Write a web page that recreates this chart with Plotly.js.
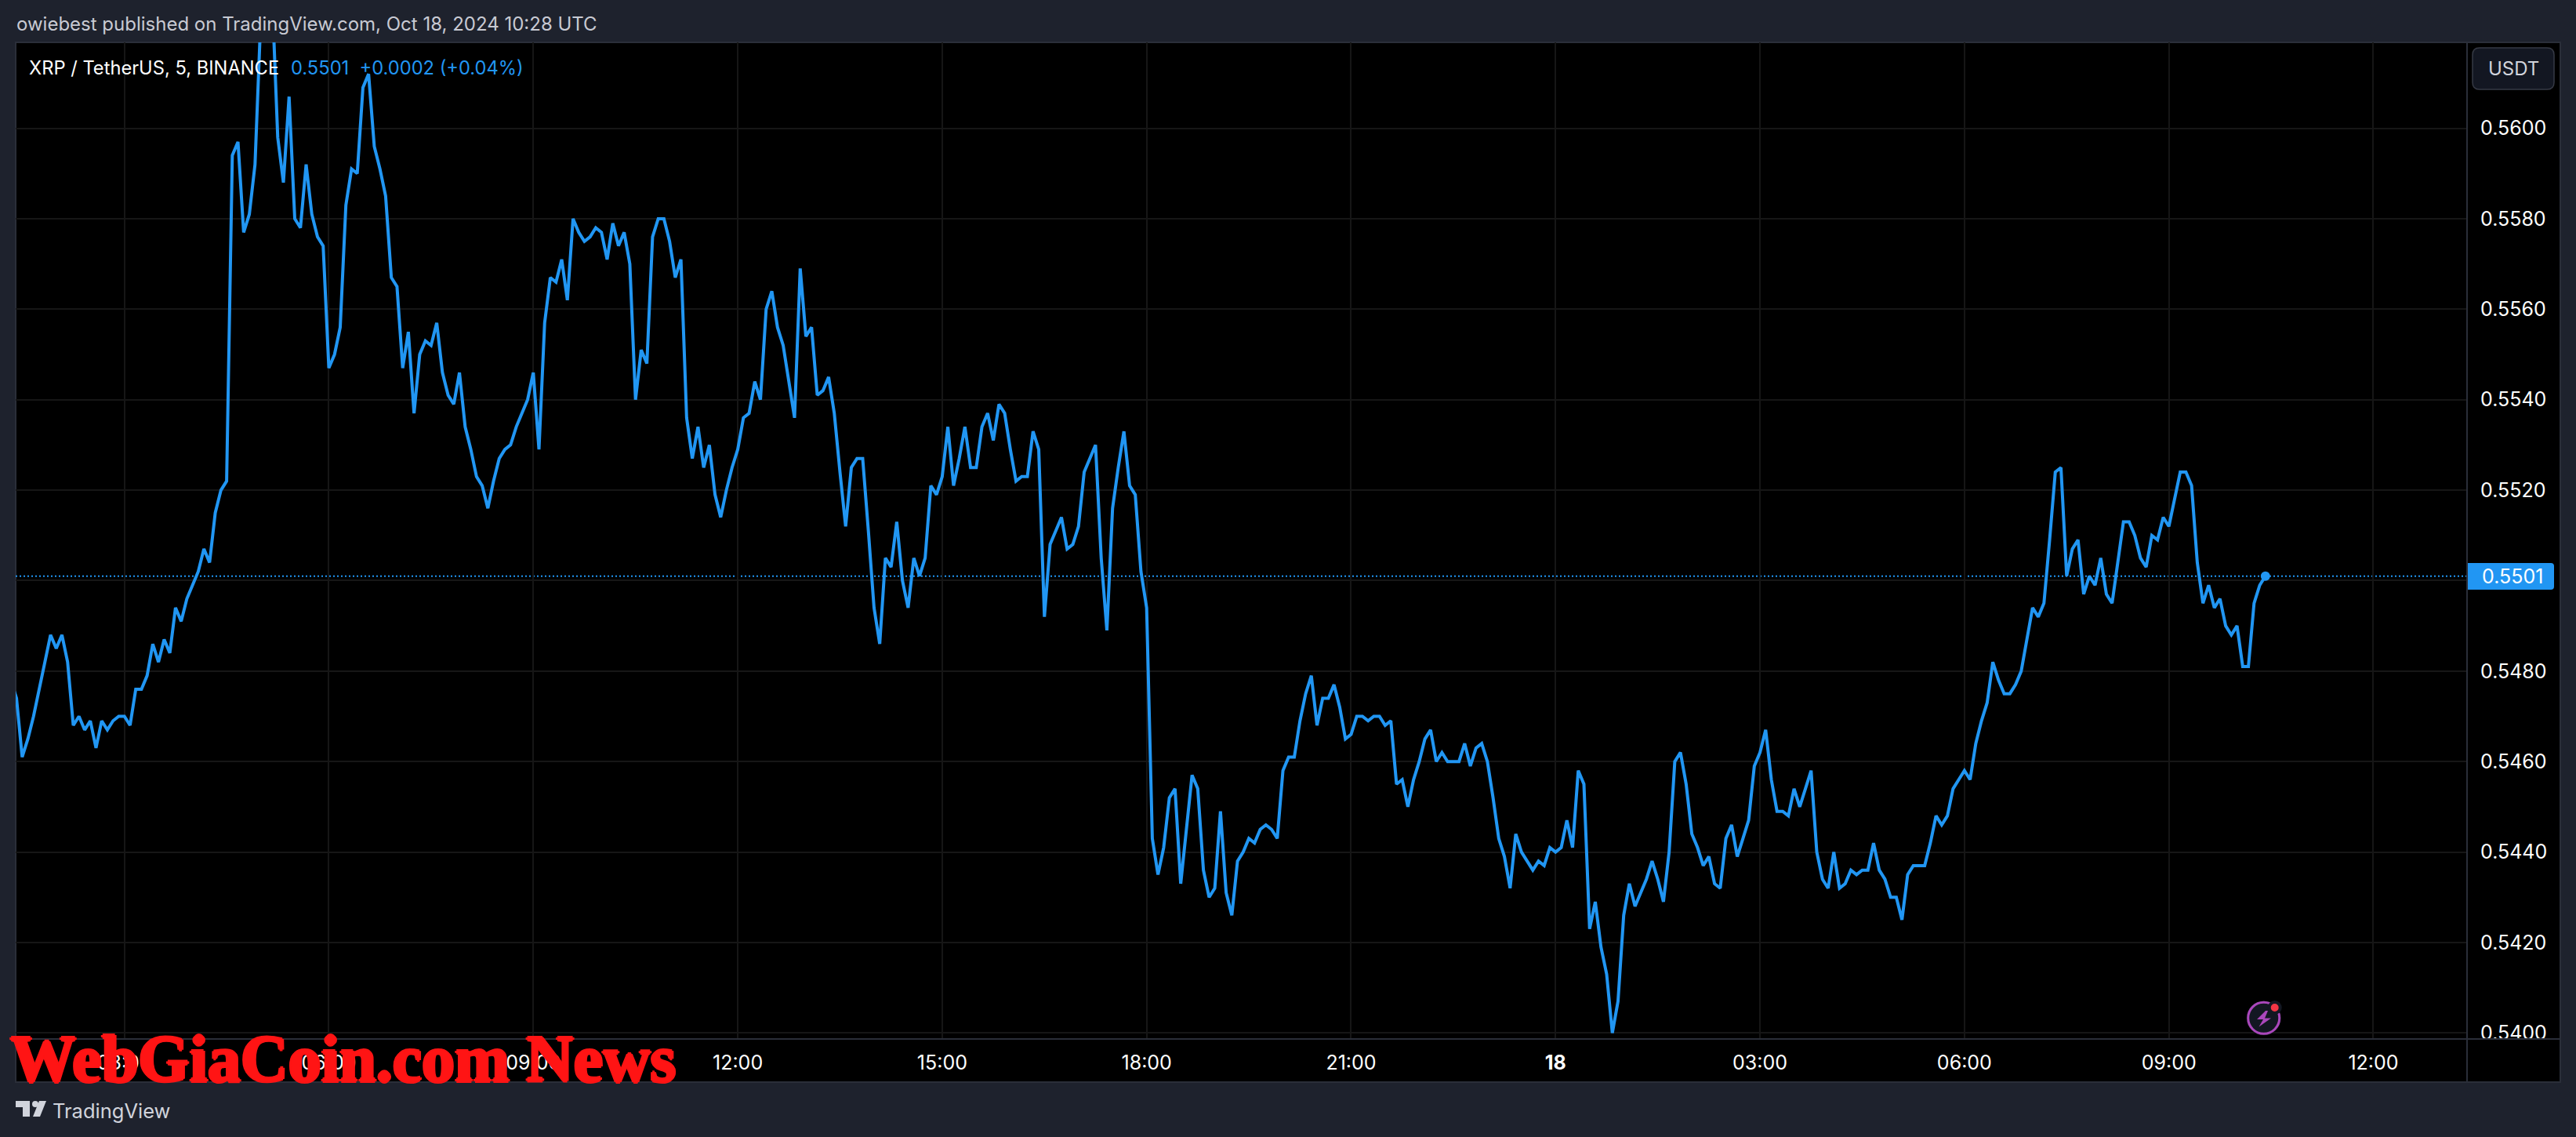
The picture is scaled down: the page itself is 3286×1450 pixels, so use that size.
<!DOCTYPE html>
<html>
<head>
<meta charset="utf-8">
<script src="https://cdn.plot.ly/plotly-3.0.1.min.js"></script>
<style>html,body{margin:0;padding:0;background:#1e222d}#chart{width:3286px;height:1450px}</style>
</head>
<body>
<div id="chart"></div>
<script>
// 5-minute closes, XRP/USDT. Starts Oct 17 01:20.
const closesEarly = [0.5478,0.5474,0.5461,0.5465,0.5470,0.5476,0.5482,0.5488,0.5485,0.5488,0.5482,0.5468,0.5470,0.5467,0.5469,0.5463,0.5469,0.5467,0.5469,0.5470,0.5470,
 0.5468,0.5476,0.5476,0.5479,0.5486,0.5482,0.5487,0.5484,0.5494,0.5491,0.5496,0.5499,0.5502,0.5507,0.5504,
 0.5515,0.5520,0.5522,0.5594,0.5597,0.5577,0.5581,0.5592,0.5624,0.5632,0.5630,0.5598,0.5588,0.5607,0.5580,0.5578,0.5592,0.5581,0.5576,0.5574,0.5547];
const closesMorning = [0.5550,0.5556,0.5583,0.5591,0.5590,0.5609,0.5612,0.5596,0.5591,0.5585,0.5567,0.5565,0.5547,0.5555,0.5537,0.5550,0.5553,0.5552,0.5557,0.5546,0.5541,0.5539,0.5546,0.5534,0.5529,0.5523,0.5521,0.5516,0.5522,0.5527,0.5529,0.5530,0.5534,0.5537,0.5540,0.5546,
 0.5529,0.5557,0.5567,0.5566,0.5571,0.5562,0.5580,0.5577,0.5575,0.5576,0.5578,0.5577,0.5571,0.5579,0.5574,0.5577,0.5570,0.5540,0.5551,0.5548,0.5576,0.5580,0.5580,0.5575,0.5567,0.5571,0.5536,0.5527,0.5534,0.5525,0.5530,0.5519,0.5514,0.5520,0.5525,0.5529];
const closesAfternoon = [0.5536,0.5537,0.5544,0.5540,0.5560,0.5564,0.5556,0.5552,0.5544,0.5536,0.5569,0.5554,0.5556,0.5541,0.5542,0.5545,0.5537,0.5524,0.5512,0.5525,0.5527,0.5527,0.5511,0.5494,0.5486,0.5505,0.5503,0.5513,0.5500,0.5494,0.5505,0.5501,0.5505,0.5521,0.5519,0.5523,
 0.5534,0.5521,0.5527,0.5534,0.5525,0.5525,0.5534,0.5537,0.5531,0.5539,0.5537,0.5529,0.5522,0.5523,0.5523,0.5533,0.5529,0.5492,0.5508,0.5511,0.5514,0.5507,0.5508,0.5512,0.5524,0.5527,0.5530,0.5505,0.5489,0.5516,0.5525,0.5533,0.5521,0.5519,0.5502,0.5494];
const closesEvening = [0.5443,0.5435,0.5441,0.5452,0.5454,0.5433,0.5445,0.5457,0.5454,0.5436,0.5430,0.5432,0.5449,0.5431,0.5426,0.5438,0.5440,0.5443,0.5442,0.5445,0.5446,0.5445,0.5443,0.5458,0.5461,0.5461,0.5469,0.5475,0.5479,0.5468,0.5474,0.5474,0.5477,0.5472,0.5465,0.5466,
 0.5470,0.5470,0.5469,0.5470,0.5470,0.5468,0.5469,0.5455,0.5456,0.5450,0.5456,0.5460,0.5465,0.5467,0.5460,0.5462,0.5460,0.5460,0.5460,0.5464,0.5459,0.5463,0.5464,0.5460,0.5452,0.5443,0.5439,0.5432,0.5444,0.5440,0.5438,0.5436,0.5438,0.5437,0.5441,0.5440];
const closesNight = [0.5441,0.5447,0.5441,0.5458,0.5455,0.5423,0.5429,0.5419,0.5413,0.5400,0.5407,0.5426,0.5433,0.5428,0.5431,0.5434,0.5438,0.5434,0.5429,0.5440,0.5460,0.5462,0.5455,0.5444,0.5441,0.5437,0.5439,0.5433,0.5432,0.5443,0.5446,0.5439,0.5443,0.5447,0.5459,0.5462,
 0.5467,0.5456,0.5449,0.5449,0.5448,0.5454,0.5450,0.5454,0.5458,0.5440,0.5434,0.5432,0.5440,0.5432,0.5433,0.5436,0.5435,0.5436,0.5436,0.5442,0.5436,0.5434,0.5430,0.5430,0.5425,0.5435,0.5437,0.5437,0.5437,0.5442,0.5448,0.5446,0.5448,0.5454,0.5456,0.5458];
const closesLate = [0.5456,0.5464,0.5469,0.5473,0.5482,0.5478,0.5475,0.5475,0.5477,0.5480,0.5487,0.5494,0.5492,0.5495,0.5509,0.5524,0.5525,0.5501,0.5507,0.5509,0.5497,0.5501,0.5499,0.5505,0.5497,0.5495,0.5504,0.5513,0.5513,0.5510,0.5505,0.5503,0.5510,0.5509,0.5514,0.5512,
 0.5518,0.5524,0.5524,0.5521,0.5504,0.5495,0.5499,0.5494,0.5496,0.5490,0.5488,0.5490,0.5481,0.5481,0.5495,0.5499,0.5501];
const closes = [].concat(closesEarly, closesMorning, closesAfternoon, closesEvening, closesNight, closesLate);

const startMs = Date.UTC(2024, 9, 17, 1, 20);
const barMinutes = 5;
const times = closes.map((_, i) => new Date(startMs + i * barMinutes * 60000).toISOString().slice(0, 19).replace('T', ' '));

const xTickVals = ['2024-10-17 03:00','2024-10-17 06:00','2024-10-17 09:00','2024-10-17 12:00','2024-10-17 15:00','2024-10-17 18:00','2024-10-17 21:00','2024-10-18 00:00','2024-10-18 03:00','2024-10-18 06:00','2024-10-18 09:00','2024-10-18 12:00'];
const xTickText = ['03:00','06:00','09:00','12:00','15:00','18:00','21:00','<b>18</b>','03:00','06:00','09:00','12:00'];
const yTickVals = [0.5400,0.5420,0.5440,0.5460,0.5480,0.5500,0.5520,0.5540,0.5560,0.5580,0.5600];
const yTickText = ['0.5400','0.5420','0.5440','0.5460','0.5480','','0.5520','0.5540','0.5560','0.5580','0.5600'];

const lastPrice = 0.5501;
const headerText = 'owiebest published on TradingView.com, Oct 18, 2024 10:28 UTC';
const symbolText = 'XRP / TetherUS, 5, BINANCE';
const quoteText = '0.5501  +0.0002 (+0.04%)';
const watermarkText = 'WebGiaCoin.com News';

const W = 3286, H = 1450;
const fx = p => p / W, fy = p => 1 - p / H;
const BLUE = '#2196f3', BG = '#1e222d', BORDER = '#2a2e39', GRID = '#161616', FONT = 'Inter, Roboto, sans-serif';

function rect(x0, y0, x1, y1, fill, layer, line) {
  return {type:'rect', xref:'paper', yref:'paper', x0:fx(x0), x1:fx(x1), y0:fy(y1), y1:fy(y0), fillcolor:fill,
          line:line || {width:0}, layer:layer || 'below'};
}
function circle(cx, cy, r, fill, layer, line) {
  return {type:'circle', xref:'paper', yref:'paper', x0:fx(cx - r), x1:fx(cx + r), y0:fy(cy + r), y1:fy(cy - r), fillcolor:fill,
          line:line || {width:0}, layer:layer || 'above'};
}
function poly(points, fill, layer) {
  const d = points.map((p, i) => (i ? 'L' : 'M') + fx(p[0]) + ',' + fy(p[1])).join(' ') + ' Z';
  return {type:'path', xref:'paper', yref:'paper', path:d, fillcolor:fill, line:{width:0}, layer:layer || 'above'};
}
function rounded(x0, y0, x1, y1, r, fill, line, rl) {
  const rL = rl === undefined ? r : rl;
  const P = (x, y) => fx(x) + ',' + fy(y);
  const d = 'M' + P(x0 + rL, y0) + ' L' + P(x1 - r, y0) + ' Q' + P(x1, y0) + ' ' + P(x1, y0 + r) +
    ' L' + P(x1, y1 - r) + ' Q' + P(x1, y1) + ' ' + P(x1 - r, y1) + ' L' + P(x0 + rL, y1) +
    (rL ? ' Q' + P(x0, y1) + ' ' + P(x0, y1 - rL) + ' L' + P(x0, y0 + rL) + ' Q' + P(x0, y0) + ' ' + P(x0 + rL, y0) : ' L' + P(x0, y0)) + ' Z';
  return {type:'path', xref:'paper', yref:'paper', path:d, fillcolor:fill, line:line || {width:0}, layer:'above'};
}
function label(text, x, y, size, color, anchor, extra) {
  return Object.assign({text:text, xref:'paper', yref:'paper', x:fx(x), y:fy(y), xanchor:anchor || 'left', yanchor:'middle',
    showarrow:false, font:{family:FONT, size:size, color:color}, borderpad:0}, extra || {});
}

const shapes = [
  rect(20, 54, 3266, 1380, '#000000', 'below', {color:BORDER, width:2}),
  // axis separators
  rect(3146, 54, 3148, 1380, BORDER, 'above'),
  rect(20, 1324, 3266, 1326, BORDER, 'above'),
  // clip for the lowest price label
  rect(3149, 1326, 3265, 1379, '#000000', 'above'),
  // last price line
  {type:'line', xref:'paper', yref:'y', x0:fx(20), x1:fx(3147), y0:lastPrice, y1:lastPrice, line:{color:BLUE, width:2, dash:'2px,3px'}, layer:'below'},
  // last price badge
  rounded(3148, 718, 3258, 752, 4, BLUE, null, 0),
  // USDT button
  rounded(3154, 61, 3258, 114, 9, '#131722', {color:'#363a45', width:1.5}),
  // lightning icon
  circle(2887.7, 1298.3, 22, '#131722'),
  circle(2887.7, 1298.3, 20, '#131722', 'above', {color:'#ab47bc', width:3}),
  poly([[2890,1289],[2879,1300],[2887,1300],[2881.5,1309.5],[2897,1298.5],[2889,1298.5],[2893,1289]], '#ab47bc'),
  circle(2901.7, 1285, 9, '#131722'),
  circle(2901.7, 1285, 5, '#f23645'),
  // TradingView mark
  poly([[20,1404],[38,1404],[38,1424],[29,1424],[29,1412],[20,1412]], '#d1d4dc'),
  circle(45, 1408, 4, '#d1d4dc'),
  poly([[50,1404],[59,1404],[51,1424],[42,1424]], '#d1d4dc')
];

const wmShadow = '2px 0 0 #ff1414, -2px 0 0 #ff1414, 0 2px 0 #ff1414, 0 -2px 0 #ff1414';
const annotations = [
  label(headerText, 20, 31, 24, '#c8cad3'),
  label(symbolText, 36, 86, 23.7, '#ffffff'),
  label(quoteText, 370, 86, 23.7, BLUE),
  label('USDT', 3206, 87, 24, '#d1d4dc', 'center'),
  label('0.5501', 3205, 735, 25, '#ffffff', 'center'),
  label('TradingView', 66, 1416, 25.5, '#d1d4dc'),
  label(watermarkText, 12, 1350, 84, '#ff1414', 'left', {font:{family:'"Liberation Serif", serif', size:84, color:'#ff1414', weight:'bold', shadow:wmShadow}})
];

const traces = [
  {x:times, y:closes, type:'scatter', mode:'lines', line:{color:BLUE, width:4, simplify:false}, hoverinfo:'skip'},
  {x:[times[times.length - 1]], y:[closes[closes.length - 1]], type:'scatter', mode:'markers', marker:{color:BLUE, size:12}, hoverinfo:'skip'}
];

const layout = {
  width:W, height:H, showlegend:false, paper_bgcolor:BG, plot_bgcolor:'#000000',
  margin:{l:0, r:0, t:0, b:0, pad:0},
  font:{family:FONT, color:'#ffffff', size:25},
  xaxis:{type:'date', domain:[fx(20), fx(3147)], range:['2024-10-17 01:24:17','2024-10-18 13:22:30'],
    tickmode:'array', tickvals:xTickVals, ticktext:xTickText, tickangle:0,
    showgrid:true, gridcolor:GRID, gridwidth:2, zeroline:false, showline:false,
    ticks:'outside', ticklen:8, tickcolor:'rgba(0,0,0,0)', tickfont:{family:FONT, size:25, color:'#ffffff'}, automargin:false},
  yaxis:{type:'linear', side:'right', domain:[fy(1325), fy(54)], range:[0.539867, 0.5619],
    tickmode:'array', tickvals:yTickVals, ticktext:yTickText,
    showgrid:true, gridcolor:GRID, gridwidth:2, zeroline:false, showline:false,
    ticks:'outside', ticklen:11, tickcolor:'rgba(0,0,0,0)', tickfont:{family:FONT, size:25, color:'#ffffff'}, automargin:false},
  shapes:shapes, annotations:annotations
};

Plotly.newPlot('chart', traces, layout, {staticPlot:true, displayModeBar:false});
</script>
</body>
</html>
